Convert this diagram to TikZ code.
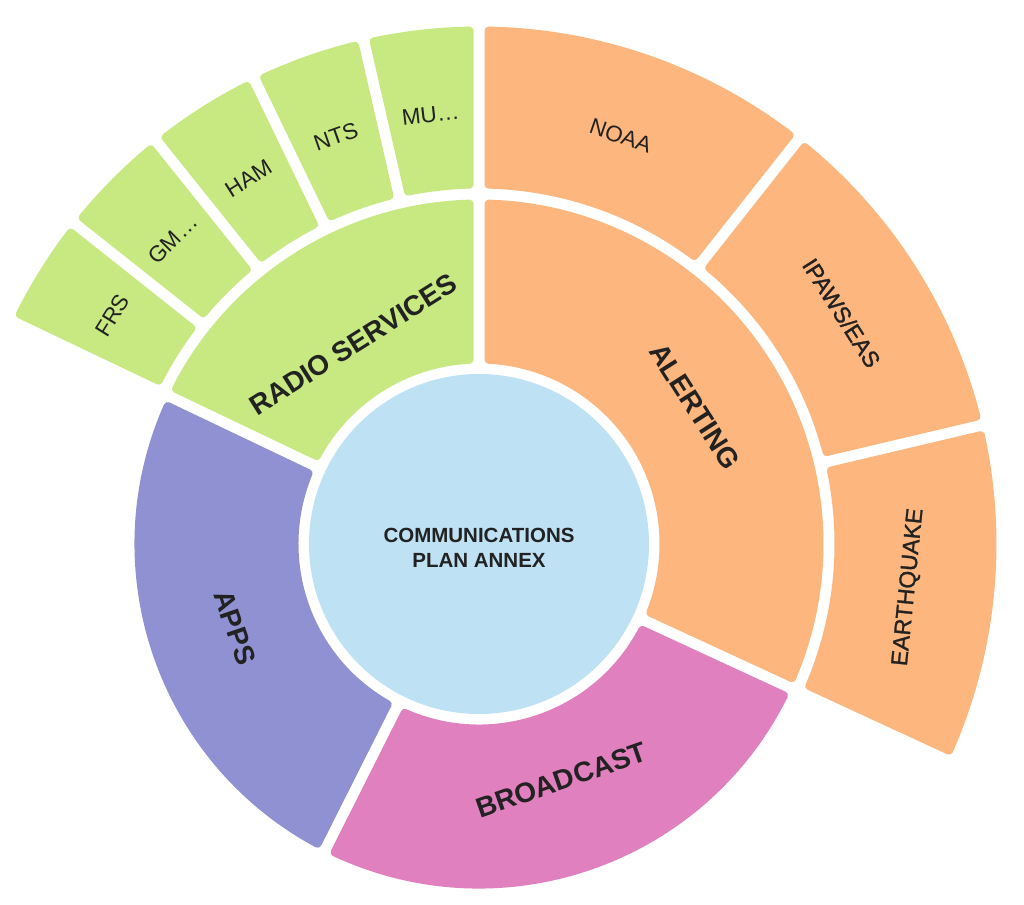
\documentclass[tikz,border=0pt]{standalone}
\usepackage{fontspec}
\setmainfont{Liberation Sans}
\newfontfamily\semibold[FakeBold=1.2]{Liberation Sans}
\definecolor{cgreen}{HTML}{C8E882}
\definecolor{corange}{HTML}{FDB67D}
\definecolor{cpurple}{HTML}{8F91D2}
\definecolor{cpink}{HTML}{E180BE}
\definecolor{cblue}{HTML}{BEE2F4}
\definecolor{txt}{HTML}{222222}
% #1 colour, #2 start angle, #3 end angle, #4 inner radius, #5 outer radius (gap centres)
\newcommand\sunsector[5]{%
  \pgfmathsetmacro\ssRi{#4+9.5}\pgfmathsetmacro\ssRo{#5-9.5}%
  \pgfmathsetmacro\ssDi{asin(9.5/\ssRi)}\pgfmathsetmacro\ssDo{asin(9.5/\ssRo)}%
  \pgfmathsetmacro\ssA{#2+\ssDo}\pgfmathsetmacro\ssB{#3-\ssDo}%
  \pgfmathsetmacro\ssC{#3-\ssDi}\pgfmathsetmacro\ssD{#2+\ssDi}%
  \path[seg=#1] ([shift={(\ssA:\ssRo)}]C)
    arc[start angle=\ssA, end angle=\ssB, radius=\ssRo]
    -- ([shift={(\ssC:\ssRi)}]C)
    arc[start angle=\ssC, end angle=\ssD, radius=\ssRi] -- cycle;}
\begin{document}
\begin{tikzpicture}[x=1pt,y=1pt,
  seg/.style={draw=#1, fill=#1, line width=8pt, line join=round},
  inlab/.style={text=txt, font=\bfseries\fontsize{28}{30}\selectfont, inner sep=0pt},
  outlab/.style={text=txt, font=\fontsize{22.5}{24}\selectfont, inner sep=0pt},
  outlabb/.style={text=txt, font=\semibold\fontsize{23}{24}\selectfont, inner sep=0pt},
  centerlab/.style={text=txt, font=\bfseries\fontsize{20.5}{25.5}\selectfont, align=center, inner sep=0pt}]
\useasboundingbox (0,0) rectangle (1024,-904);
\coordinate (C) at (479,-544);
% inner ring
\sunsector{cgreen}{90}{154.5}{175}{350}
\sunsector{cpurple}{154.5}{243.3}{175}{350}
\sunsector{cpink}{243.3}{335.2}{175}{350}
\sunsector{corange}{-24.8}{90}{175}{350}
% outer ring
\sunsector{cgreen}{90}{102.9}{350}{523}
\sunsector{cgreen}{102.9}{115.8}{350}{523}
\sunsector{cgreen}{115.8}{128.7}{350}{523}
\sunsector{cgreen}{128.7}{141.6}{350}{523}
\sunsector{cgreen}{141.6}{154.5}{350}{523}
\sunsector{corange}{51.7}{90}{350}{523}
\sunsector{corange}{13.3}{51.7}{350}{523}
\sunsector{corange}{-24.8}{13.3}{350}{523}
% centre
\fill[cblue] (C) circle[radius=170];
\node[centerlab] (centre) at ([yshift=-4]C) {COMMUNICATIONS\\PLAN ANNEX};
% inner labels
\node[inlab, rotate=32.25] (radio) at ([shift={(122.25:236)}]C) {RADIO SERVICES};
\node[inlab, rotate=-71.1] (apps) at ([shift={(198.9:258)}]C) {APPS};
\node[inlab, rotate=19.25] (broadcast) at ([shift={(289.25:250)}]C) {BROADCAST};
\node[inlab, rotate=-57.4] (alerting) at ([shift={(32.6:256)}]C) {ALERTING};
% outer labels
\node[outlab, rotate=6.45] (mu) at ([shift={(96.45:432)}]C) {MU…};
\node[outlab, rotate=19.35] (nts) at ([shift={(109.35:432)}]C) {NTS};
\node[outlab, rotate=32.25] (ham) at ([shift={(122.25:432)}]C) {HAM};
\node[outlab, rotate=45.15] (gm) at ([shift={(135.15:432)}]C) {GM…};
\node[outlab, rotate=58.05] (frs) at ([shift={(148.05:432)}]C) {FRS};
\node[outlab, rotate=-19.15] (noaa) at ([shift={(70.85:432)}]C) {NOAA};
\node[outlabb, rotate=-57.5] (ipaws) at ([shift={(32.5:430)}]C) {IPAWS/EAS};
\node[outlabb, rotate=84.25] (quake) at ([shift={(-5.75:432)}]C) {EARTHQUAKE};
\end{tikzpicture}
\end{document}
